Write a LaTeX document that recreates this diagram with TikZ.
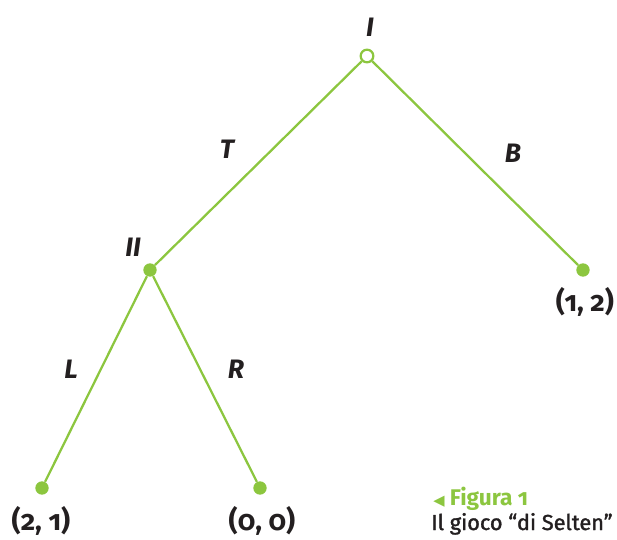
\documentclass[tikz,border=0pt]{standalone}
\usepackage{fontspec}
\setmainfont{Fira Sans}[Numbers=OldStyle]
\newfontfamily\capfont{Fira Sans}[Numbers=OldStyle, FakeBold=1.5]
\newfontfamily\symfont{DejaVu Sans}
\usetikzlibrary{positioning}
\definecolor{treegreen}{HTML}{8CC63F}
\definecolor{inkdark}{HTML}{231F20}
\tikzset{
    branch/.style={treegreen, line width=1.7pt},
    leafdot/.style={circle, fill=treegreen, inner sep=0pt, minimum size=10pt},
    rootdot/.style={circle, draw=treegreen, fill=white, line width=1.7pt, inner sep=0pt, minimum size=9.5pt},
    player/.style={font=\fontsize{20}{24}\selectfont\bfseries\itshape, text=inkdark},
    move/.style={font=\fontsize{20}{24}\selectfont\bfseries\itshape, text=inkdark},
    payoff/.style={font=\fontsize{21}{25}\selectfont\bfseries, text=inkdark}
}
\begin{document}
\begin{tikzpicture}[x=0.75pt, y=-0.75pt]
    \useasboundingbox (0,0) rectangle (617,539);

    % nodes of the tree
    \node[rootdot] (one) at (367,56) {};
    \node[leafdot] (two) at (150,270) {};
    \node[leafdot] (outB) at (583,270) {};
    \node[leafdot] (outL) at (42,488) {};
    \node[leafdot] (outR) at (260,488) {};

    % branches
    \draw[branch] (one) -- (two);
    \draw[branch] (one) -- (outB);
    \draw[branch] (two) -- (outL);
    \draw[branch] (two) -- (outR);

    % players and moves
    \node[player] (labI) at (370,27) {I};
    \node[player] (labII) at (133,247) {II};
    \node[move] (labT) at (227,149) {T};
    \node[move] (labB) at (513,153) {B};
    \node[move] (labL) at (71,369) {L};
    \node[move] (labR) at (236,369) {R};

    % payoffs
    \node[payoff] (payB) at (585,302) {(1, 2)};
    \node[payoff] (payL) at (41,521) {(2, 1)};
    \node[payoff] (payR) at (262,521) {(0, 0)};

    % caption
    \node[anchor=base west, font=\fontsize{17}{20}\selectfont\bfseries, text=treegreen, inner sep=0pt] (figno) at (433,505)
        {{\symfont\fontsize{11}{13}\selectfont ◀}\hspace{4pt}Figura 1};
    \node[anchor=base west, font=\capfont\fontsize{16.3}{19}\selectfont, text=inkdark, inner sep=0pt] (figtitle) at (431,530)
        {Il gioco “di Selten”};
\end{tikzpicture}
\end{document}
